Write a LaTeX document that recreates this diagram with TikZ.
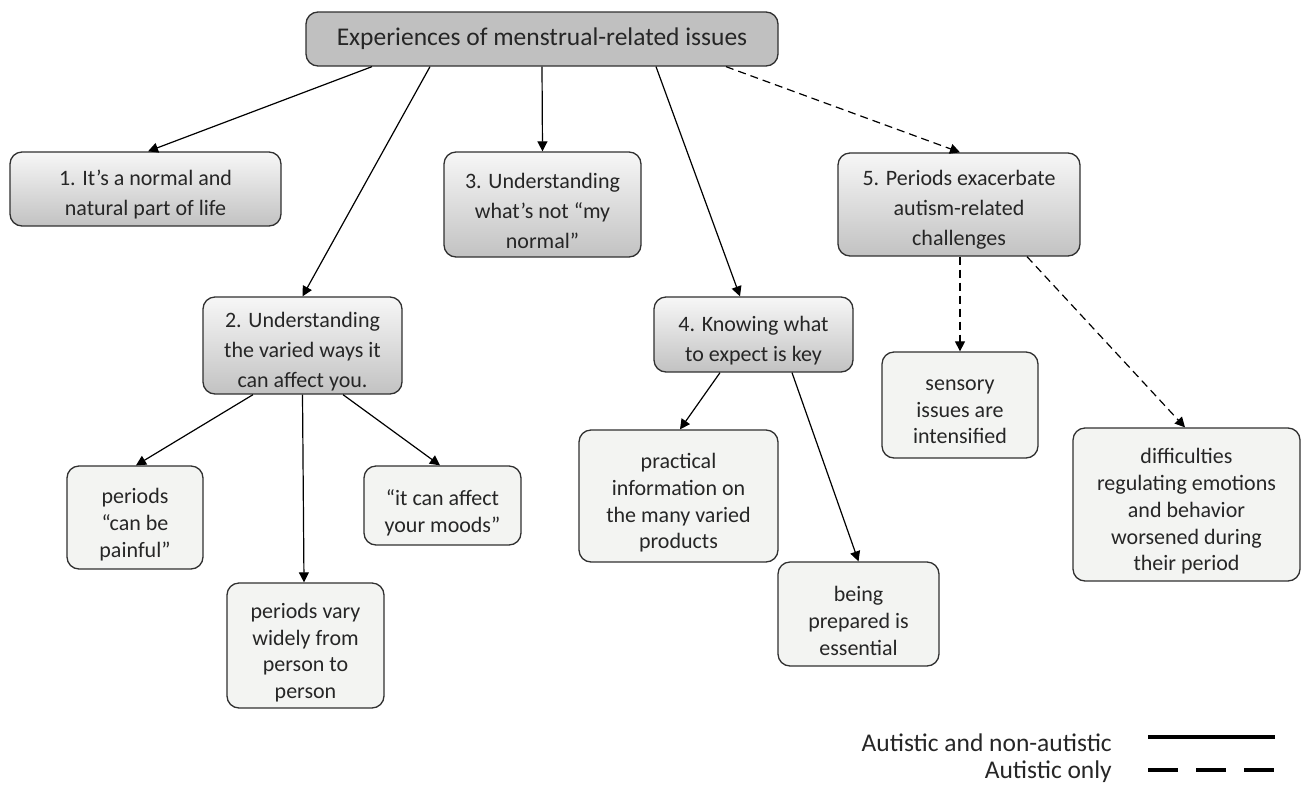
\documentclass[tikz,border=0pt]{standalone}
\usepackage{fontspec}
\setmainfont{Carlito}
\usetikzlibrary{arrows.meta}
\definecolor{rootgray}{HTML}{C0C0C0}
\definecolor{midtop}{HTML}{F7F7F7}
\definecolor{midbot}{HTML}{C2C2C2}
\definecolor{leaffill}{HTML}{F3F4F2}
\definecolor{edgegray}{HTML}{303030}
\begin{document}
\begin{tikzpicture}[x=1pt,y=-1pt,
  box/.style={draw=edgegray, line width=1.3pt, rounded corners=12pt, inner sep=0pt},
  rootbox/.style={box, fill=rootgray, align=center, text=black!85, font=\fontsize{25.5}{30}\selectfont},
  midbox/.style={box, top color=midtop, bottom color=midbot},
  leafbox/.style={box, fill=leaffill},
  midtext/.style={align=center, inner sep=0pt, text=black!85, font=\fontsize{22}{30}\selectfont},
  leaftext/.style={align=center, inner sep=0pt, text=black!85, font=\fontsize{22}{26.7}\selectfont},
  conn/.style={line width=1.2pt, -{Triangle[width=10pt,length=10pt]}},
  dconn/.style={conn, dash pattern=on 8pt off 5pt},
  legtext/.style={anchor=east, inner sep=0pt, text=black!85, font=\fontsize{25.5}{30}\selectfont},
  legline/.style={line width=3.5pt},
]
\useasboundingbox (0,0) rectangle (1301,785);

\node[rootbox, minimum width=472pt, minimum height=54pt] (top) at (542,39) {Experiences of menstrual-related issues};

\node[midbox, minimum width=271pt, minimum height=74pt] (b1) at (145.5,189) {};
\node[midtext] (b1t) at ([yshift=-6pt]b1.center) {1. It’s a normal and\\natural part of life};
\node[midbox, minimum width=199pt, minimum height=97pt] (b2) at (302.5,345.5) {};
\node[midtext] (b2t) at ([yshift=-6pt]b2.center) {2. Understanding\\the varied ways it\\can affect you.};
\node[midbox, minimum width=197pt, minimum height=105pt] (b3) at (542.5,204.5) {};
\node[midtext] (b3t) at ([yshift=-6pt]b3.center) {3. Understanding\\what’s not “my\\normal”};
\node[midbox, minimum width=199pt, minimum height=75pt] (b4) at (753.5,334.5) {};
\node[midtext] (b4t) at ([yshift=-6pt]b4.center) {4. Knowing what\\to expect is key};
\node[midbox, minimum width=242pt, minimum height=103pt] (b5) at (959,204.5) {};
\node[midtext] (b5t) at ([yshift=-5pt]b5.center) {5. Periods exacerbate\\autism-related\\challenges};

\node[leafbox, minimum width=136pt, minimum height=103pt] (l1) at (135,517.5) {};
\node[leaftext] (l1t) at ([yshift=-7pt]l1.center) {periods\\“can be\\painful”};
\node[leafbox, minimum width=157pt, minimum height=125pt] (l2) at (305.5,645.5) {};
\node[leaftext] (l2t) at ([yshift=-7pt]l2.center) {periods vary\\widely from\\person to\\person};
\node[leafbox, minimum width=157pt, minimum height=79pt] (l3) at (442.5,505.5) {};
\node[leaftext] (l3t) at ([yshift=-7pt]l3.center) {“it can affect\\your moods”};
\node[leafbox, minimum width=199pt, minimum height=132pt] (l4) at (678.5,496) {};
\node[leaftext] (l4t) at ([yshift=-7pt]l4.center) {practical\\information on\\the many varied\\products};
\node[leafbox, minimum width=161pt, minimum height=104pt] (l5) at (858.5,614) {};
\node[leaftext] (l5t) at ([yshift=-7pt]l5.center) {being\\prepared is\\essential};
\node[leafbox, minimum width=156pt, minimum height=106pt] (l6) at (960,405) {};
\node[leaftext] (l6t) at ([yshift=-7pt]l6.center) {sensory\\issues are\\intensified};
\node[leafbox, minimum width=227pt, minimum height=153pt] (l7) at (1186.5,504.5) {};
\node[leaftext] (l7t) at ([yshift=-7pt]l7.center) {difficulties\\regulating emotions\\and behavior\\worsened during\\their period};

\draw[conn] ([xshift=-170pt]top.south) -- ([xshift=2.5pt]b1.north);
\draw[conn] ([xshift=-112pt]top.south) -- (b2.north);
\draw[conn] (top.south) -- (b3.north);
\draw[conn] ([xshift=114pt]top.south) -- ([xshift=-13.5pt]b4.north);
\draw[dconn] ([xshift=184pt]top.south) -- ([xshift=1pt]b5.north);

\draw[conn] ([xshift=-49.5pt]b2.south) -- ([xshift=1pt]l1.north);
\draw[conn] (b2.south) -- ([xshift=-1.5pt]l2.north);
\draw[conn] ([xshift=40.5pt]b2.south) -- ([xshift=-2.5pt]l3.north);
\draw[conn] ([xshift=-33.5pt]b4.south) -- ([xshift=1.5pt]l4.north);
\draw[conn] ([xshift=38.5pt]b4.south) -- (l5.north);
\draw[dconn] ([xshift=1pt]b5.south) -- (l6.north);
\draw[dconn] ([xshift=68pt]b5.south) -- ([xshift=-1.5pt]l7.north);

\node[legtext] (lg1) at (1112,743) {Autistic and non-autistic};
\node[legtext] (lg2) at (1112,772) {Autistic only};
\coordinate (s1) at (1148,737);
\coordinate (e1) at (1275,737);
\coordinate (s2) at (1148,770);
\coordinate (e2) at (1275,770);
\draw[legline] (s1) -- (e1);
\draw[legline, dash pattern=on 30pt off 18pt] (s2) -- (e2);
\end{tikzpicture}
\end{document}
